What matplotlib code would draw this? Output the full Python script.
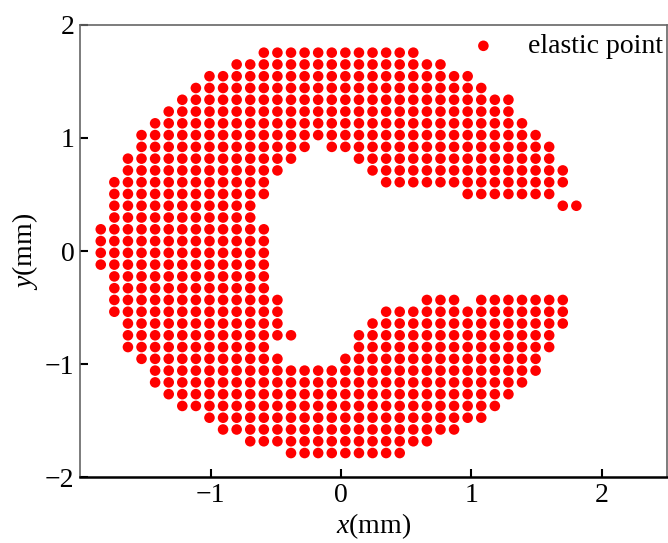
import numpy as np
import matplotlib
matplotlib.use("Agg")
import matplotlib.pyplot as plt

plt.rcParams['font.family'] = ['Liberation Serif', 'DejaVu Serif']
plt.rcParams['mathtext.fontset'] = 'custom'
plt.rcParams['mathtext.rm'] = 'Liberation Serif'
plt.rcParams['mathtext.it'] = 'Liberation Serif:italic'

# grid of the elastic points
x_first = -1.842   # x of column 0
y_first = 1.755    # y of row 0
step = 0.1042      # grid spacing (mm)

# filled column ranges (inclusive) for each row, top row first
row_segments = [
    [(12, 23)],
    [(10, 25)],
    [(8, 27)],
    [(7, 28)],
    [(6, 30)],
    [(5, 30)],
    [(4, 31)],
    [(3, 32)],
    [(3, 15), (17, 33)],
    [(2, 14), (19, 33)],
    [(2, 13), (20, 34)],
    [(1, 12), (21, 34)],
    [(1, 12), (27, 33)],
    [(1, 11), (34, 35)],
    [(1, 11)],
    [(0, 12)],
    [(0, 12)],
    [(0, 12)],
    [(0, 12)],
    [(1, 12)],
    [(1, 12)],
    [(1, 13), (24, 26), (28, 34)],
    [(1, 13), (21, 34)],
    [(2, 13), (20, 34)],
    [(2, 14), (19, 33)],
    [(2, 12), (19, 33)],
    [(3, 13), (18, 32)],
    [(4, 32)],
    [(4, 31)],
    [(5, 30)],
    [(6, 29)],
    [(8, 28)],
    [(9, 26)],
    [(11, 24)],
    [(14, 22)],
]

xs, ys = [], []
for j, segs in enumerate(row_segments):
    for a, b in segs:
        for i in range(a, b + 1):
            xs.append(x_first + i * step)
            ys.append(y_first - j * step)

fig = plt.figure(figsize=(6.68, 5.43), dpi=100)
ax = fig.add_axes([0.12, 0.1215, 0.8785, 0.8325])

ax.scatter(xs, ys, s=58, color='red', edgecolors='none', label='elastic point')

ax.set_xlim(-2, 2.5)
ax.set_ylim(-2, 2)
ax.set_xticks([-1, 0, 1, 2])
ax.set_yticks([-2, -1, 0, 1, 2])
ax.tick_params(direction='in', length=6, width=1.5, labelsize=20, pad=4)
ax.set_xlabel('$x$(mm)', fontsize=20, labelpad=3)
ax.set_ylabel('$y$(mm)', fontsize=20, labelpad=4)

for side in ['left', 'top', 'right']:
    ax.spines[side].set_color('#666666')
    ax.spines[side].set_linewidth(1.2)
ax.spines['bottom'].set_linewidth(1.8)

ax.legend(loc='upper right', bbox_to_anchor=(1.0, 0.99), frameon=False,
          fontsize=20, handletextpad=0.6, borderaxespad=0.0, borderpad=0.15,
          scatterpoints=1)

fig.savefig('out.png', dpi=100)
